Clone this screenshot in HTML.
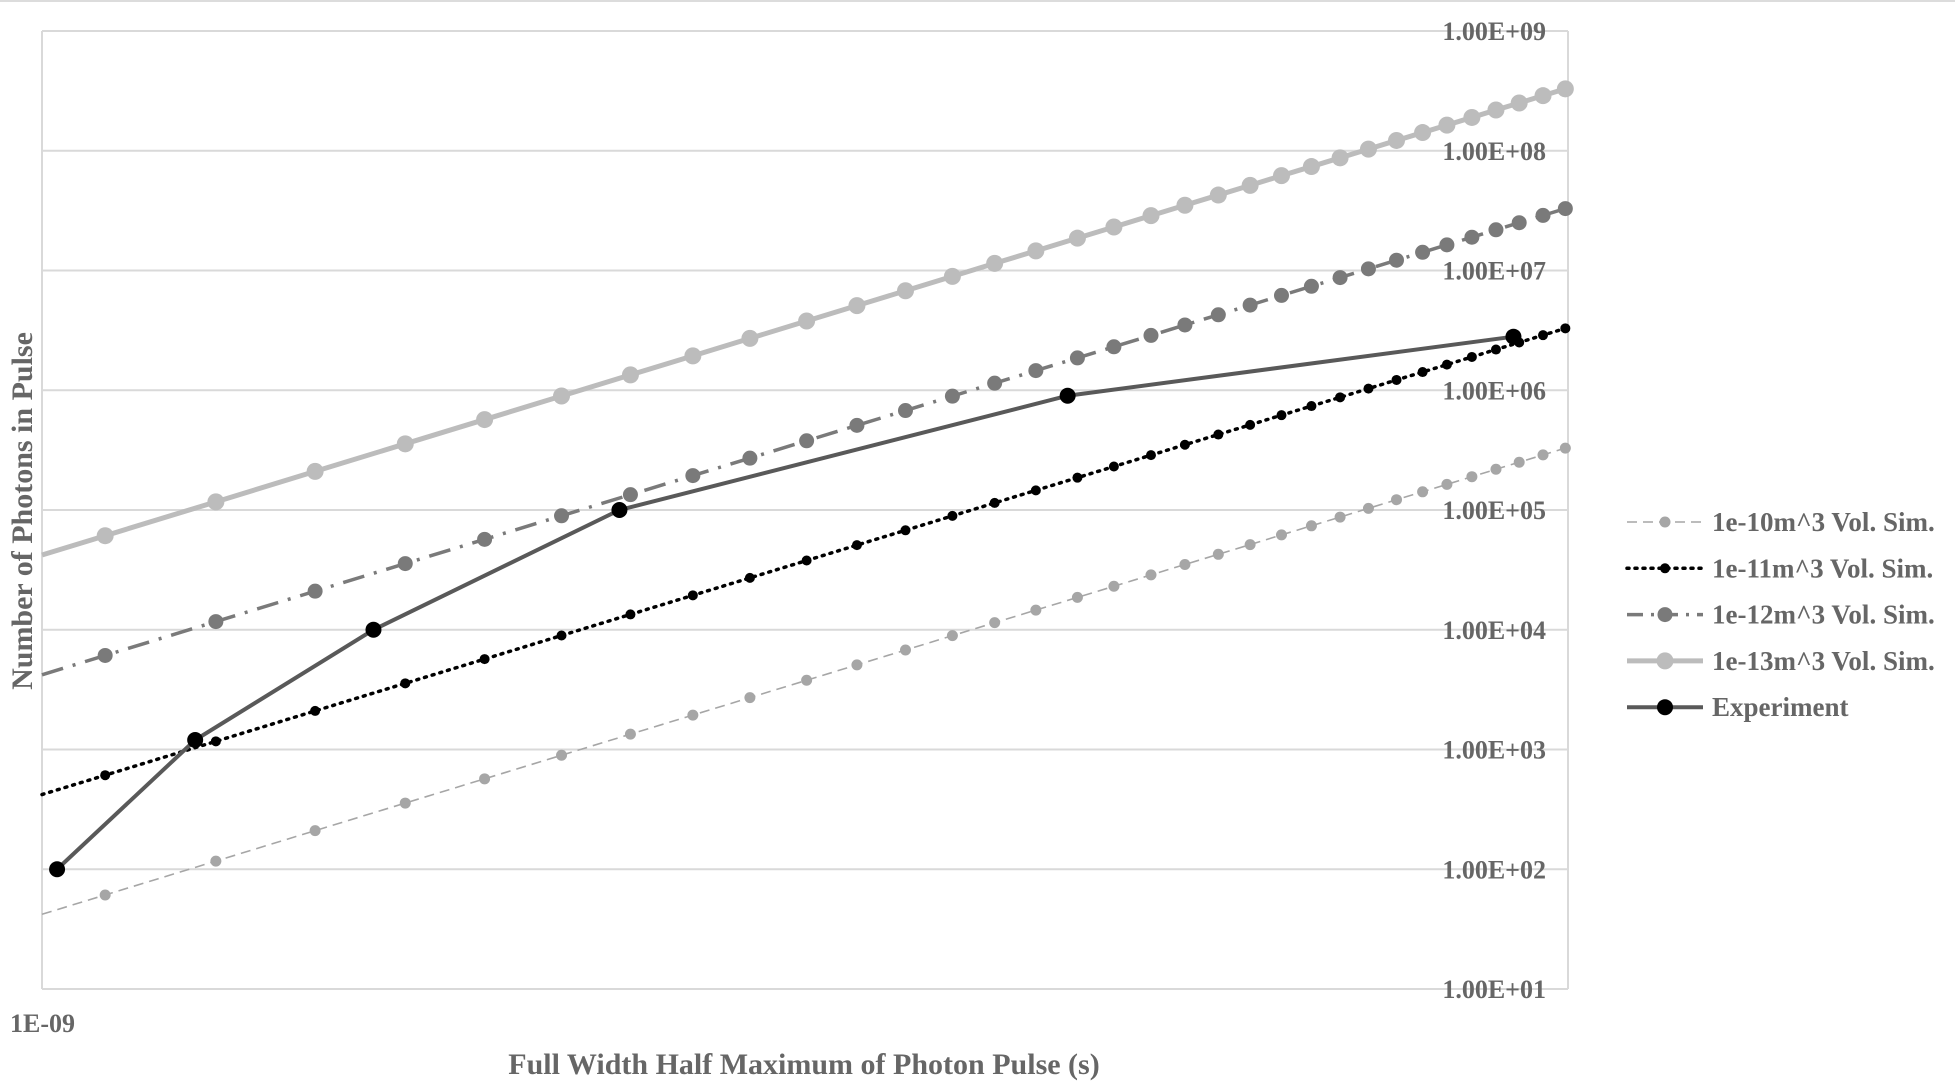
<!DOCTYPE html>
<html><head><meta charset="utf-8"><style>
html,body{margin:0;padding:0;background:#fff;}
svg{display:block;font-family:"Liberation Serif",serif;font-weight:bold;}
</style></head><body>
<svg id="chart" width="1955" height="1092" viewBox="0 0 1955 1092">
<line x1="0" y1="1" x2="1955" y2="1" stroke="#dcdcdc" stroke-width="2"/>
<g id="grid"></g>
<g id="yticks"></g>
<g id="series"></g>
<text x="10" y="1032" font-size="26" fill="#666">1E-09</text>
<text x="804" y="1074" font-size="30" fill="#666" text-anchor="middle">Full Width Half Maximum of Photon Pulse (s)</text>
<text transform="translate(32,511) rotate(-90)" font-size="30" fill="#666" text-anchor="middle">Number of Photons in Pulse</text>
<g id="legend"></g>
</svg>
<script>
const fwhmNs = [1.1,1.3,1.51,1.73,1.95,2.19,2.43,2.67,2.91,3.17,3.42,3.68,3.95,4.21,4.48,4.77,5.04,5.33,5.61,5.9,6.19,6.49,6.79,7.09,7.4,7.72,8.03,8.33,8.65,8.97,9.29,9.63,9.96];
const sim10 = [61,117,210,357,569,895,1343,1938,2710,3785,5090,6770,8930,11460,14590,18620,23070,28710,35080,42660,51400,61940,73790,87300,103200,121900,141900,163700,189700,218800,250600,288400,328900];
const sim11 = [610,1170,2100,3570,5690,8950,13430,19380,27100,37850,50900,67700,89300,114600,145900,186200,230700,287100,350800,426600,514000,619400,737900,873000,1032000,1219000,1419000,1637000,1897000,2188000,2506000,2884000,3289000];
const sim12 = [6100,11700,21000,35700,56900,89500,134300,193800,271000,378500,509000,677000,893000,1146000,1459000,1862000,2307000,2871000,3508000,4266000,5140000,6194000,7379000,8730000,10320000,12190000,14190000,16370000,18970000,21880000,25060000,28840000,32890000];
const sim13 = [61000,117000,210000,357000,569000,895000,1343000,1938000,2710000,3785000,5090000,6770000,8930000,11460000,14590000,18620000,23070000,28710000,35080000,42660000,51400000,61940000,73790000,87300000,103200000,121900000,141900000,163700000,189700000,218800000,250600000,288400000,328900000];
const expX = [1.023,1.26,1.649,2.39,4.70,9.21];
const expY = [100,1200,10000,100000,900000,2800000];
const yTickLabels = ["1.00E+01","1.00E+02","1.00E+03","1.00E+04","1.00E+05","1.00E+06","1.00E+07","1.00E+08","1.00E+09"];
const legendLabels = ["1e-10m^3 Vol. Sim.","1e-11m^3 Vol. Sim.","1e-12m^3 Vol. Sim.","1e-13m^3 Vol. Sim.","Experiment"];

const NS="http://www.w3.org/2000/svg";
const L=42, R=1568, T=31, B=989;
function xs(ns){return L+(R-L)*Math.log10(ns/1);}
function ys(v){return B-(B-T)*(Math.log10(v)-1)/8;}
function mk(tag,attrs,parent){const e=document.createElementNS(NS,tag);for(const k in attrs)e.setAttribute(k,attrs[k]);parent.appendChild(e);return e;}

const grid=document.getElementById('grid'), yt=document.getElementById('yticks');
yTickLabels.forEach((t,i)=>{
  const y=ys(Math.pow(10,i+1));
  const g=mk('line',{x1:L,x2:R,y1:y,y2:y,stroke:'#d9d9d9','stroke-width':2},grid);
  
  
  const tx=mk('text',{x:1546,y:y+9,'font-size':26,fill:'#666','text-anchor':'end'},yt);
  tx.textContent=t;
  
  
});
const la=mk('line',{x1:L,x2:L,y1:T,y2:B,stroke:'#d9d9d9','stroke-width':2},grid);


const ra=mk('line',{x1:R,x2:R,y1:T,y2:B,stroke:'#d9d9d9','stroke-width':2},grid);



const styles=[
 {xs:fwhmNs,ys:sim10,stroke:'#a6a6a6',w:1.6,dash:'10 6',fill:'#a6a6a6',r:5.5,ext:true,name:'series-1e-10'},
 {xs:fwhmNs,ys:sim11,stroke:'#000',w:3.5,dash:'2 6',cap:'round',fill:'#000',r:5,ext:true,name:'series-1e-11'},
 {xs:fwhmNs,ys:sim12,stroke:'#7a7a7a',w:3.5,dash:'22 10 3 10',fill:'#7a7a7a',r:7.5,ext:true,name:'series-1e-12'},
 {xs:fwhmNs,ys:sim13,stroke:'#bcbcbc',w:5,dash:'',fill:'#bcbcbc',r:8.5,ext:true,name:'series-1e-13'},
 {xs:expX,ys:expY,stroke:'#595959',w:4,dash:'',fill:'#000',r:8,ext:false,name:'series-experiment'}
];
const sg=document.getElementById('series');
styles.forEach(s=>{
  let pts=s.xs.map((x,i)=>[xs(x),ys(s.ys[i])]);
  let linePts=pts.slice();
  if(s.ext){
    const [x0,y0]=pts[0],[x1,y1]=pts[1];
    const sl=(y1-y0)/(x1-x0);
    linePts.unshift([L,y0+sl*(L-x0)]);
  }
  const g=mk('g',{},sg);
  
  
  const pl=mk('polyline',{points:linePts.map(p=>p.join(',')).join(' '),fill:'none',stroke:s.stroke,'stroke-width':s.w,'stroke-dasharray':s.dash,'stroke-linecap':s.cap||'butt'},g);
  
  
  pts.forEach(p=>{
    const c=mk('circle',{cx:p[0],cy:p[1],r:s.r,fill:s.fill},g);
    
    
  });
});

const lg=document.getElementById('legend');
legendLabels.forEach((t,i)=>{
  const s=styles[i], y=522+i*46.3;
  const g=mk('g',{},lg);
  
  
  mk('line',{x1:1627,x2:1703,y1:y,y2:y,stroke:s.stroke,'stroke-width':s.w,'stroke-dasharray':s.dash==='22 10 3 10'?'16 8 3 8':s.dash,'stroke-linecap':s.cap||'butt'},g);
  mk('circle',{cx:1665,cy:y,r:s.r,fill:s.fill},g);
  const tx=mk('text',{x:1712,y:y+9,'font-size':27,fill:'#666'},g);
  tx.textContent=t;
});
</script>
</body></html>
